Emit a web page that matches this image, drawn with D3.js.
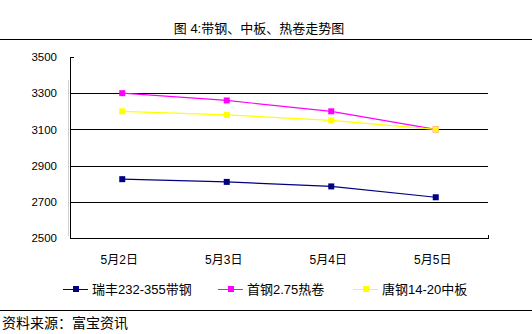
<!DOCTYPE html>
<html>
<head>
<meta charset="utf-8">
<script src="https://cdn.jsdelivr.net/npm/d3@7"></script>
<style>
  html, body { margin: 0; padding: 0; background: #fff; }
  svg { display: block; }
  text { font-family: "Liberation Sans", "Noto Sans CJK SC", sans-serif; fill: #000; }
</style>
</head>
<body>
<svg id="chart" width="532" height="334"></svg>
<script>
// Dates on the category axis
const dates = ["5月2日", "5月3日", "5月4日", "5月5日"];
// Prices per product (元/吨)
const ruifengStrip = [2825, 2810, 2785, 2725];
const shougangHotCoil = [3300, 3260, 3200, 3100];
const tanggangPlate = [3200, 3180, 3150, 3100];
// Value-axis ticks
const yTicks = [2500, 2700, 2900, 3100, 3300, 3500];

const seriesNames = ["瑞丰232-355带钢", "首钢2.75热卷", "唐钢14-20中板"];
const seriesValues = [ruifengStrip, shougangHotCoil, tanggangPlate];
const seriesColors = ["#000080", "#ff00ff", "#ffff00"];

const svg = d3.select("#chart");

// Title and rules
svg.append("text")
  .attr("x", 259).attr("y", 33)
  .attr("text-anchor", "middle")
  .style("font-size", "13px")
  .text("图 4:带钢、中板、热卷走势图");
svg.append("line").attr("x1", 0).attr("x2", 532).attr("y1", 39.5).attr("y2", 39.5)
  .attr("stroke", "#000").attr("stroke-width", 1);
svg.append("line").attr("x1", 0).attr("x2", 532).attr("y1", 310.5).attr("y2", 310.5)
  .attr("stroke", "#000").attr("stroke-width", 1);

const plotLeft = 70, plotRight = 488, plotTop = 57, plotBottom = 238;

const x = d3.scaleBand().domain(dates).range([plotLeft, plotRight]).padding(0);
const y = d3.scaleLinear().domain([2500, 3500]).range([plotBottom, plotTop]);

// Horizontal gridlines
const grid = svg.append("g").attr("transform", `translate(${plotLeft},0)`)
  .call(d3.axisRight(y).tickValues(yTicks.filter(v => v > 2500 && v < 3500))
    .tickSize(plotRight - plotLeft).tickFormat(""));
grid.select(".domain").remove();
grid.selectAll(".tick line").attr("stroke", "#000").attr("shape-rendering", "crispEdges");

// Value axis
const yAxis = svg.append("g").attr("transform", `translate(${plotLeft},0)`)
  .call(d3.axisRight(y).tickValues(yTicks).tickSize(4).tickSizeOuter(0).tickFormat(""));
yAxis.select(".domain").attr("stroke", "#000").attr("shape-rendering", "crispEdges");
yAxis.selectAll(".tick line").attr("stroke", "#000").attr("shape-rendering", "crispEdges");
svg.append("line").attr("x1", plotLeft - 1.5).attr("x2", plotLeft - 1.5).attr("y1", 80).attr("y2", 236)
  .attr("stroke", "#d0d0d0").attr("stroke-width", 1);

svg.append("g").selectAll("text").data(yTicks).join("text")
  .attr("x", 57).attr("y", d => y(d))
  .attr("text-anchor", "end").attr("dy", "0.36em")
  .style("font-size", "11.5px")
  .text(d => d);

// Category axis
const xAxis = svg.append("g").attr("transform", `translate(0,${plotBottom})`)
  .call(d3.axisBottom(x).tickSize(0).tickSizeOuter(0).tickFormat(""));
xAxis.select(".domain").attr("stroke", "#000").attr("shape-rendering", "crispEdges");
svg.append("line").attr("x1", plotRight).attr("x2", plotRight).attr("y1", plotBottom - 3).attr("y2", plotBottom)
  .attr("stroke", "#000").attr("shape-rendering", "crispEdges");

svg.append("g").selectAll("text").data(dates).join("text")
  .attr("x", d => x(d) + x.bandwidth() / 2 - 3).attr("y", 264)
  .attr("text-anchor", "middle")
  .style("font-size", "12px")
  .text(d => d);

// Series lines and markers
const line = d3.line()
  .x((d, i) => x(dates[i]) + x.bandwidth() / 2)
  .y(d => y(d));

seriesValues.forEach((vals, s) => {
  const g = svg.append("g");
  g.append("path").datum(vals)
    .attr("d", line)
    .attr("fill", "none")
    .attr("stroke", seriesColors[s])
    .attr("stroke-width", 1.2);
  g.selectAll("rect").data(vals).join("rect")
    .attr("x", (d, i) => x(dates[i]) + x.bandwidth() / 2 - 3)
    .attr("y", d => y(d) - 3)
    .attr("width", 6).attr("height", 6)
    .attr("fill", seriesColors[s]);
});

// Legend
const legendX = [63, 218, 353];
const legendY = 289;
const lg = svg.append("g");
seriesNames.forEach((name, s) => {
  const x0 = legendX[s];
  lg.append("line").attr("x1", x0).attr("x2", x0 + 25)
    .attr("y1", legendY + 0.5).attr("y2", legendY + 0.5)
    .attr("stroke", seriesColors[s]).attr("stroke-width", 1);
  lg.append("rect").attr("x", x0 + 10).attr("y", legendY - 3)
    .attr("width", 6).attr("height", 6).attr("fill", seriesColors[s]);
  lg.append("text").attr("x", x0 + 29).attr("y", legendY).attr("dy", "0.38em")
    .style("font-size", "13px")
    .text(name);
});

// Source note
svg.append("text").attr("x", 2).attr("y", 328)
  .style("font-size", "14px")
  .text("资料来源：富宝资讯");
</script>
</body>
</html>
